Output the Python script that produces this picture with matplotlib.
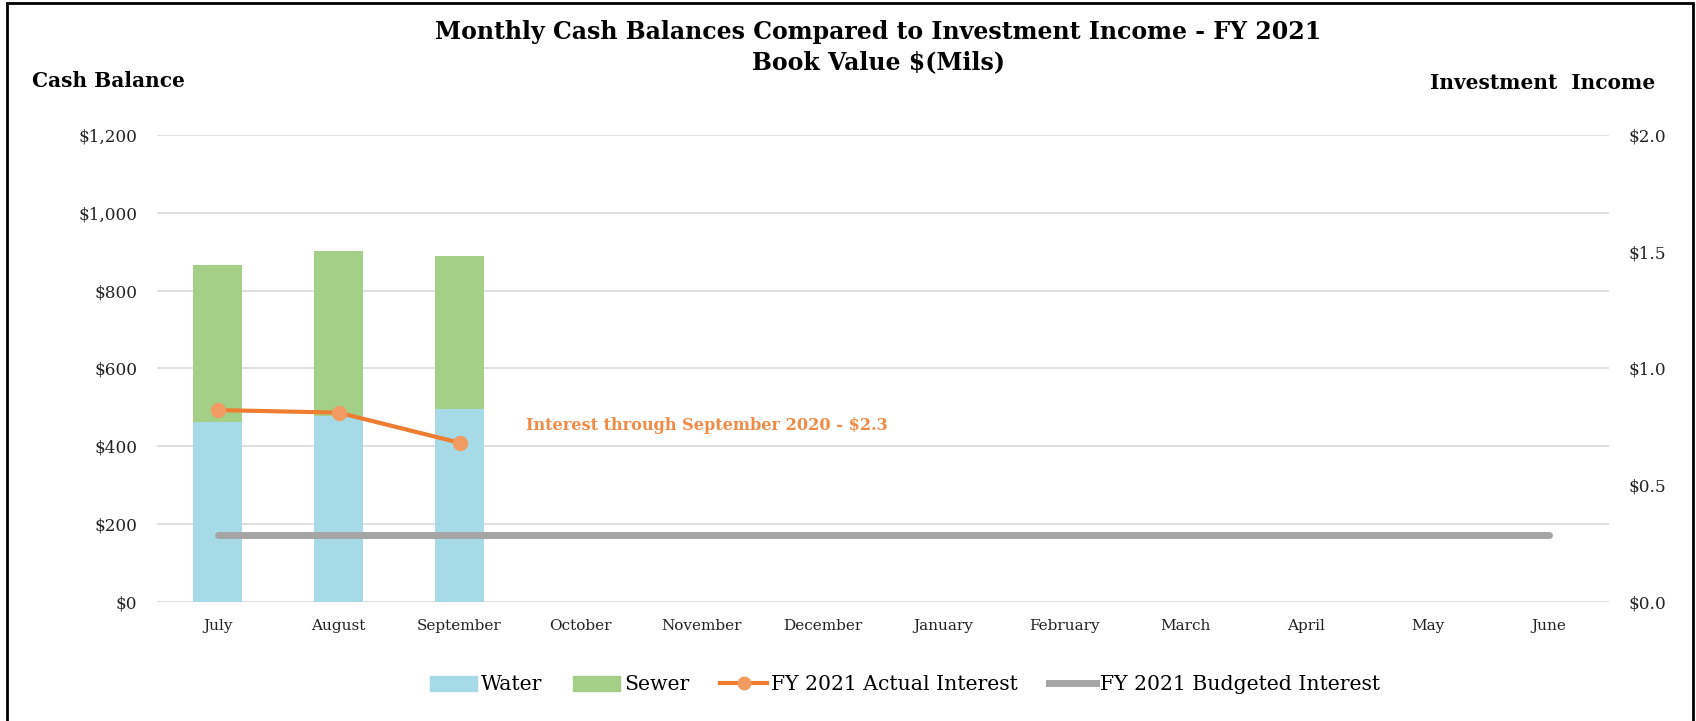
import matplotlib
matplotlib.use("Agg")
import matplotlib.pyplot as plt
from matplotlib.patches import Rectangle
from matplotlib.lines import Line2D
import numpy as np

months = ["July", "August", "September", "October", "November", "December",
          "January", "February", "March", "April", "May", "June"]
water = [463, 478, 497]
sewer = [403, 424, 392]
actual_interest = [0.822, 0.811, 0.682]
budgeted_interest = [0.286] * 12
left_ticks = [0, 200, 400, 600, 800, 1000, 1200]
right_ticks = [0.0, 0.5, 1.0, 1.5, 2.0]

FONT = "DejaVu Serif"
plt.rcParams['font.family'] = [FONT]

W, H = 1696, 721
fig = plt.figure(figsize=(W / 100, H / 100), dpi=100)
L, R, T, B = 157, 1609, 135, 602
ax = fig.add_axes([L / W, 1 - B / H, (R - L) / W, (B - T) / H])
ax2 = ax.twinx()

x = np.arange(len(months))
xb = np.arange(len(water))
ax.bar(xb, water, width=0.41, color="#A5DAE6", zorder=2, label="Water")
ax.bar(xb, sewer, bottom=water, width=0.41, color="#A3D086", zorder=2, label="Sewer")

ax.set_xlim(-0.5, len(months) - 0.5)
ax.set_ylim(0, 1200)
ax.set_yticks(left_ticks)
ax.set_yticklabels([f"${v:,.0f}" for v in left_ticks])
ax.yaxis.grid(True, color="#D9D9D9", linewidth=1.2, zorder=0)
ax.set_axisbelow(True)
ax.set_xticks(x)
ax.set_xticklabels(months)
for s in ax.spines.values():
    s.set_visible(False)
for s in ax2.spines.values():
    s.set_visible(False)
ax.tick_params(axis='x', length=0, labelsize=11, colors="#222222", pad=12)
ax.tick_params(axis='y', length=0, labelsize=12.2, colors="#222222", pad=14.4)

ax2.set_ylim(0, 2.0)
ax2.set_yticks(right_ticks)
ax2.set_yticklabels([f"${v:.1f}" for v in right_ticks])
ax2.tick_params(axis='y', length=0, labelsize=12.2, colors="#222222", pad=13.7)

ax2.plot(x, budgeted_interest, color="#A5A5A5", linewidth=5,
         solid_capstyle='round', zorder=3)
ax2.plot(xb, actual_interest, color="#ED7D31", linewidth=3, marker='o',
         markersize=10, markerfacecolor="#F19B62", markeredgecolor="#F19B62", zorder=4)
ax2.text(2.55, 0.758, "Interest through September 2020 - $2.3", color="#F08A45",
         fontsize=11.6, fontweight='bold', va='center', ha='left')

fig.text(0.518, 1 - 32 / H, "Monthly Cash Balances Compared to Investment Income - FY 2021",
         ha='center', va='center', fontsize=17, fontweight='bold')
fig.text(0.518, 1 - 62 / H, "Book Value $(Mils)",
         ha='center', va='center', fontsize=17, fontweight='bold')
fig.text(32 / W, 1 - 81 / H, "Cash Balance", ha='left', va='center',
         fontsize=14.5, fontweight='bold')
fig.text(1655 / W, 1 - 83 / H, "Investment  Income", ha='right', va='center',
         fontsize=14.5, fontweight='bold')

handles = [
    Rectangle((0, 0), 1, 1, color="#A5DAE6"),
    Rectangle((0, 0), 1, 1, color="#A3D086"),
    Line2D([], [], color="#ED7D31", linewidth=3, marker='o', markersize=9,
           markerfacecolor="#F19B62", markeredgecolor="#F19B62"),
    Line2D([], [], color="#A5A5A5", linewidth=5),
]
labels = ["Water", "Sewer", "FY 2021 Actual Interest", "FY 2021 Budgeted Interest"]
fig.legend(handles, labels, loc='center', bbox_to_anchor=(905 / W, 1 - 685 / H),
           ncol=4, frameon=False, fontsize=14.7, handlelength=2.3, handletextpad=0.2,
           columnspacing=1.5, handleheight=0.7)

border = Rectangle((7 / W, -0.02), (1693 - 7) / W, 1.02 - 3 / H,
                   transform=fig.transFigure, fill=False, edgecolor="black",
                   linewidth=2)
fig.patches.append(border)

fig.savefig("out.png", dpi=100)
